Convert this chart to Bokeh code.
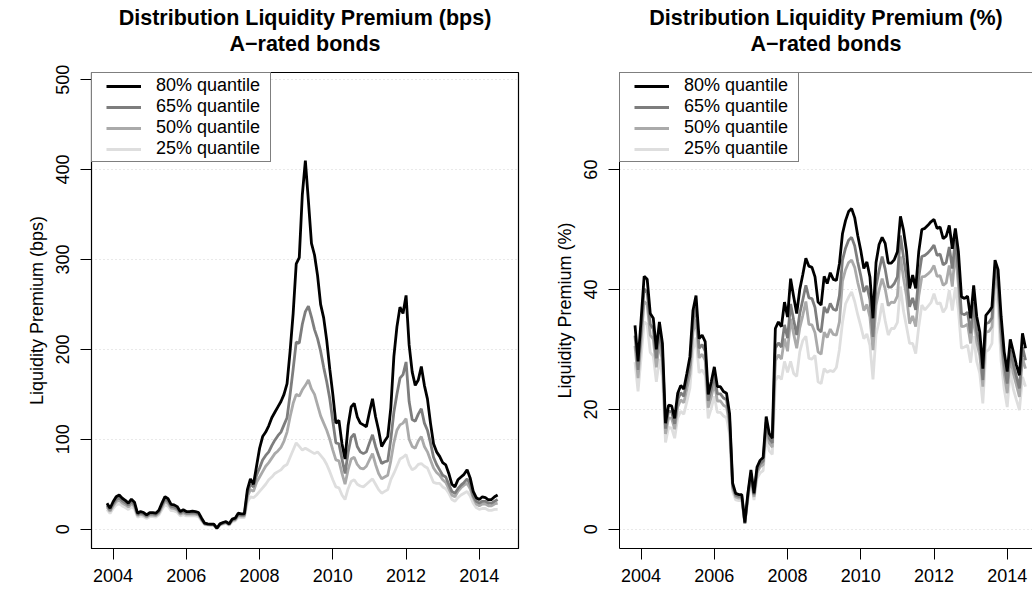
import pandas as pd
from bokeh.plotting import figure
from bokeh.models import (FixedTicker, Range1d, Legend, LegendItem, Title, Span,
                          ColumnDataSource)
from bokeh.layouts import row
from bokeh.embed import file_html
from bokeh.resources import INLINE

# ---------------- data (monthly, Nov 2003 - Jul 2014) ----------------
months = pd.period_range("2003-11", "2014-07", freq="M")
t = [m.year + (m.month - 1) / 12 for m in months]

# Left panel: liquidity premium in bps
L80 = [28.9, 23.3, 30.5, 36, 38, 34.4, 32, 29, 33.3, 30,
       17.8, 19.6, 18.5, 15.9, 18.5, 18.5, 17.8, 21, 29, 36.3,
       34, 27.5, 27, 25.1, 19.6, 21.5, 19.6, 19.6, 20, 19.6,
       18.5, 12.2, 6.7, 5.9, 5.6, 5.6, 1.1, 5.9, 7.4, 8.5,
       5.9, 11.1, 12.2, 17.8, 17, 17, 44, 56, 50, 70,
       90, 103, 108, 115, 124, 130, 136, 142, 150, 162,
       198, 240, 295, 302, 372, 410, 365, 318, 305, 282,
       250, 235, 210, 178, 150, 118, 121, 95, 78, 115,
       136, 140, 125, 118, 116, 114, 130, 145, 125, 110,
       92, 98, 103, 135, 192, 225, 247, 240, 260, 205,
       175, 160, 166, 181, 160, 145, 118, 95, 86, 81,
       74, 71.5, 62, 50, 47, 55, 58, 61, 66, 57,
       42, 35, 33, 36, 35, 32.6, 33, 36, 38]
L65 = [26.6, 21.4, 28.1, 33.1, 35, 31.6, 29.4, 26.7, 30.6, 27.6,
       16.4, 18, 17, 14.6, 17, 17, 16.4, 19.3, 26.7, 33.4,
       31.3, 25.3, 24.8, 23.1, 18, 19.8, 18, 18, 18.4, 18,
       17, 11.2, 6.2, 5.4, 5.2, 5.2, 1, 5.4, 6.8, 7.8,
       5.4, 10.2, 11.2, 16.4, 15.6, 15.6,
       40, 50, 47, 60, 68, 77, 82, 86, 93, 99, 104, 108, 116, 124,
       150, 178, 208, 207, 228, 242,
       248, 236, 222, 212, 198, 180, 164, 145, 120, 96, 95, 78, 62,
       85, 102, 106, 92, 86, 84, 86, 96, 105, 92, 82, 73, 75, 76, 100, 130,
       150, 168, 172, 186, 142, 122, 120, 128, 134, 118, 110, 96, 80, 72, 66,
       60, 58, 50, 42, 40, 45, 49, 52, 56, 50, 37, 31, 29, 31, 31, 29, 29, 31, 33]
L50 = [24.6, 19.8, 25.9, 30.6, 32.3, 29.2, 27.2, 24.7, 28.3, 25.5,
       15.1, 16.7, 15.7, 13.5, 15.7, 15.7, 15.1, 17.9, 24.7, 30.9,
       28.9, 23.4, 23, 21.3, 16.7, 18.3, 16.7, 16.7, 17, 16.7,
       15.7, 10.4, 5.7, 5, 4.8, 4.8, 0.9, 5, 6.3, 7.2,
       5, 9.4, 10.4, 15.1, 14.5, 14.5,
       36, 44, 42, 52, 58, 64, 70, 74, 79, 84, 87, 91, 98, 108,
       125, 140, 150, 148, 155, 160,
       166, 156, 150, 138, 126, 118, 110, 100, 88, 77, 76, 62, 50,
       66, 78, 80, 72, 68, 67, 70, 77, 84, 72, 62, 56, 58, 60, 76, 96,
       110, 116, 118, 123, 100, 92, 90, 98, 103, 92, 86, 77, 68, 63, 60,
       55, 52, 45, 38, 36, 42, 46, 49, 51, 45, 35, 28, 26, 28, 28, 26, 26, 28, 29]
L25 = [21.7, 17.5, 22.9, 27, 28.5, 25.8, 24, 21.8, 25, 22.5,
       13.4, 14.7, 13.9, 11.9, 13.9, 13.9, 13.4, 15.8, 21.8, 27.2,
       25.5, 20.6, 20.3, 18.8, 14.7, 16.1, 14.7, 14.7, 15, 14.7,
       13.9, 9.2, 5, 4.4, 4.2, 4.2, 0.8, 4.4, 5.6, 6.4,
       4.4, 8.3, 9.2, 13.4, 12.8, 12.8,
       30, 36, 35, 38, 42, 46, 50, 55, 58, 62, 64, 66, 70, 72,
       80, 88, 96, 92, 88, 90,
       88, 86, 84, 86, 82, 78, 72, 64, 55, 47, 46, 38, 33,
       45, 53, 55, 50, 48, 47, 50, 53, 56, 50, 44, 40, 42, 44, 55, 62,
       70, 78, 80, 83, 72, 66, 68, 72, 73, 70, 68, 60, 52, 51, 51,
       47, 45, 40, 33, 31, 35, 38, 40, 42, 37, 29, 24, 22, 23, 23, 21, 21, 22, 22]

# Right panel: liquidity premium in %
R80 = [34, 28, 35, 42.2, 41.7, 36, 35.2, 30, 34.6, 31,
       17.7, 20.7, 20.6, 18.5, 22.7, 24, 23.4, 26, 28.8, 36.5,
       39, 31.8, 32.4, 31.3, 22.5, 24.6, 27.1, 23.8, 23.8, 23.0,
       22.7, 19.3, 7.7, 6, 5.8, 5.8, 1.1, 6, 9.9, 6,
       10.4, 11.5, 12, 18.8, 16, 15.2, 33.5, 34.6, 33.8, 37.9,
       35.4, 41.8, 38.8, 36, 40, 42.5, 45.2, 43.9, 43.7, 42.1,
       37.9, 37.4, 42.2, 41, 42.8, 41.7, 41.5, 44.3, 49.3, 51.5,
       53, 53.5, 52, 49, 46.5, 43.5, 44.6, 42.1, 35.2, 44.5,
       47.5, 48.7, 47.7, 44.4, 44.4, 45, 46.3, 52.2, 49.9, 46.3,
       40.2, 42.4, 40.2, 46.3, 50, 50.2, 50.7, 51.3, 51.7, 50.2,
       50.4, 48.5, 48.9, 50.7, 46.8, 50.2, 46.3, 38.8, 38.5, 38.9,
       35.2, 40.7, 35.5, 32.9, 26.8, 35.7, 36.3, 37.1, 44.9, 43.3,
       35.5, 29.6, 26.3, 31.7, 29.6, 27.4, 25.7, 32.7, 30.2]
R65 = [32.3, 26.6, 33.3, 40.1, 39.6, 34.2, 33.4, 28.5, 32.9, 29.5,
       16.8, 19.7, 19.6, 17.6, 21.6, 22.8, 22.2, 24.7, 27.4, 34.7,
       37.1, 30.2, 30.8, 29.7, 21.4, 23.4, 25.7, 22.6, 22.6, 21.9,
       21.6, 18.3, 7.3, 5.7, 5.5, 5.5, 1, 5.7, 9.4, 5.7,
       9.9, 10.9, 11.4, 17.9, 15.2, 14.4,
       30.2, 31.1, 30.4, 34.1, 31.9, 37.6, 34.9, 32.4, 36, 38.3, 40.7,
       38.6, 38.5, 37, 33.4, 32.9, 37.1, 36.1, 37.7, 36.7, 36.5, 39,
       44.9, 46.9, 48.2, 48.7, 47.3, 44.6, 42.3, 39.6, 40.6, 38.3, 32.1, 40.5,
       43.2, 45.5, 43.4, 40.4, 40.4, 41, 42.1, 49, 45.4, 42.1, 37.1, 38.6,
       36.6, 42.1, 45.5, 45.7, 46.1, 46.7, 47.4, 45.7, 45.9, 44.1, 44.5, 47.1,
       43.5, 48.3,
       43.1, 36, 35.8, 36.2, 32.7, 37.9, 33, 30.6, 24.9, 34.3, 34.5, 35.3,
       43.8, 41.5, 33, 27.5, 24.3, 29.9, 27.5, 25.5, 23.5, 30.4, 28.2]
R50 = [30.6, 25.2, 31.5, 38, 37.5, 32.4, 31.7, 27, 31.1, 27.9,
       15.9, 18.6, 18.5, 16.7, 20.4, 21.6, 21.1, 23.4, 25.9, 32.9,
       35.1, 28.6, 29.2, 28.2, 20.3, 22.1, 24.4, 21.4, 21.4, 20.7,
       20.4, 17.4, 6.9, 5.4, 5.2, 5.2, 1, 5.4, 8.9, 5.4,
       9.4, 10.4, 10.8, 16.9, 14.4, 13.7,
       28.1, 29.1, 28.4, 31.8, 29.7, 35.1, 32.6, 30.2, 33.6, 35.7, 38,
       34.2, 34.1, 32.8, 29.6, 29.2, 32.9, 32, 33.4, 32.5, 32.4, 34.6,
       41.4, 43.3, 44.5, 44.9, 43.7, 41.2, 39.1, 36.5, 37.5, 35.4, 29.9, 37.4,
       39.9, 41.8, 40.1, 37.3, 37.9, 37.8, 38.9, 45.5, 41.9, 38.9, 34.3, 35.6,
       33.8, 38.9, 42.1, 42.2, 42.6, 43.1, 44, 42.2, 42.3, 40.7, 41.1, 44,
       40.5, 46.5,
       40.7, 33.8, 33.9, 34.2, 31, 35.8, 31.2, 29, 23.8, 32.9, 33, 33.8,
       42.9, 40, 31.2, 26, 22.7, 28.8, 26, 24.1, 22.1, 28.5, 26.8]
R25 = [27.9, 23, 28.7, 34.6, 34.2, 29.5, 28.9, 24.6, 28.4, 25.4,
       14.5, 17, 16.9, 15.2, 18.6, 19.7, 19.2, 21.3, 23.6, 29.9,
       32, 26.1, 26.6, 25.7, 18.5, 20.2, 22.2, 19.5, 19.5, 18.9,
       18.6, 15.8, 6.3, 4.9, 4.8, 4.8, 0.9, 4.9, 8.1, 4.9,
       8.5, 9.4, 9.8, 15.4, 13.1, 12.5,
       24.8, 25.6, 25, 28, 26.2, 28, 26, 25.5, 29.6, 31.5, 32.2,
       28.5, 28.4, 29, 24.6, 24.3, 26.8, 26.2, 26.5, 26.3, 27, 30,
       34.5, 37.6, 38.7, 39.6, 38, 35.8, 33.9, 31.8, 32.6, 30.7, 25, 32.5,
       34.7, 37.7, 34.8, 32.4, 33.5, 33.5, 34.5, 40.5, 36.4, 33.8, 31, 31,
       29.3, 33.8, 37.4, 36.6, 37.2, 37.8, 39.3, 37.6, 37.8, 36.2, 37, 39.9,
       36.5, 40.4,
       36.6, 30.2, 30.4, 30.7, 27.8, 32.2, 28, 26, 21, 29.6, 30, 31,
       41, 37, 28, 23.4, 20.4, 26.5, 23.4, 21.6, 19.9, 25.4, 23.8]

QUANTILES = ["80% quantile", "65% quantile", "50% quantile", "25% quantile"]
COLORS = ["#000000", "#7d7d7d", "#aaaaaa", "#dedede"]
X_TICKS = [2004, 2006, 2008, 2010, 2012, 2014]
LEFT_Y_TICKS = [0, 100, 200, 300, 400, 500]
RIGHT_Y_TICKS = [0, 20, 40, 60]

FONT = "Liberation Sans"
FS = "18px"


def panel(series, title1, title2, ylab, yticks, yr, xr, width, ml, mr, outline):
    src = ColumnDataSource(dict(t=t, q80=series[0], q65=series[1],
                                q50=series[2], q25=series[3]))
    p = figure(width=width, height=592, output_backend="svg", toolbar_location=None,
               title=None, x_range=Range1d(*xr), y_range=Range1d(*yr),
               min_border_left=ml, min_border_right=mr, min_border_top=72,
               min_border_bottom=44, background_fill_color="white",
               border_fill_color="white")
    # spacer between plot box and title, then the two title lines
    p.add_layout(Title(text=" ", text_font=FONT, text_font_size="10px",
                       standoff=4, offset=0), "above")
    p.add_layout(Title(text=title2, align="center", text_font=FONT,
                       text_font_size="21.5px", text_font_style="bold",
                       text_color="black", standoff=0, offset=0), "above")
    p.add_layout(Title(text=title1, align="center", text_font=FONT,
                       text_font_size="21.5px", text_font_style="bold",
                       text_color="black", standoff=0, offset=0), "above")
    # lines, lightest first so black is on top
    cols = ["q80", "q65", "q50", "q25"]
    for c, col in reversed(list(zip(cols, COLORS))):
        p.line("t", c, source=src, line_color=col, line_width=2.8)
    # legend keys: a non-drawing renderer per quantile, dash offset insets the key
    blank = ColumnDataSource(dict(t=[t[0]], v=[float("nan")]))
    items = []
    for lab, col in zip(QUANTILES, COLORS):
        r = p.line("t", "v", source=blank, line_color=col, line_width=2.8,
                   line_dash="35 100", line_dash_offset=123)
        items.append(LegendItem(label=lab, renderers=[r]))
    leg = Legend(items=items, location="top_left", margin=0, padding=2, spacing=0,
                 glyph_width=47, glyph_height=18, label_height=18, label_standoff=15,
                 label_width=112,
                 label_text_font=FONT, label_text_font_size=FS, label_text_color="black",
                 border_line_color="black", border_line_width=1.2,
                 background_fill_color="white", background_fill_alpha=1.0)
    p.add_layout(leg)

    p.xaxis.ticker = FixedTicker(ticks=X_TICKS)
    p.yaxis.ticker = FixedTicker(ticks=yticks)
    p.yaxis.major_label_orientation = "vertical"
    for ax in p.axis:
        ax.minor_tick_line_color = None
        ax.major_tick_in = 0
        ax.major_tick_out = 11
        ax.major_tick_line_color = "black"
        ax.axis_line_color = "black"
        ax.major_label_text_font = FONT
        ax.major_label_text_font_size = FS
        ax.major_label_text_color = "black"
    p.xaxis.major_label_standoff = 9
    p.yaxis.major_label_standoff = 11
    p.yaxis.axis_label = ylab
    p.yaxis.axis_label_text_font = FONT
    p.yaxis.axis_label_text_font_size = FS
    p.yaxis.axis_label_text_font_style = "normal"
    p.yaxis.axis_label_text_color = "black"
    p.yaxis.axis_label_standoff = 7
    p.xgrid.grid_line_color = None
    p.ygrid.grid_line_color = "#d3d3d3"
    p.ygrid.grid_line_dash = "1 3"
    p.ygrid.grid_line_width = 1.2
    if outline:
        p.outline_line_color = "black"
        p.outline_line_width = 1.2
    else:
        p.outline_line_color = None
        p.add_layout(Span(location=yr[1], dimension="width", line_color="black",
                          line_width=1.2))
    return p


p1 = panel([L80, L65, L50, L25], "Distribution Liquidity Premium (bps)",
           "A\u2212rated bonds", "Liquidity Premium (bps)", LEFT_Y_TICKS,
           (-21.5, 508), (2003.41, 2015.07), 520, 91, 2, True)
p2 = panel([R80, R65, R50, R25], "Distribution Liquidity Premium (%)",
           "A\u2212rated bonds", "Liquidity Premium (%)", RIGHT_Y_TICKS,
           (-3.2, 76.2), (2003.41, 2014.69), 512, 99, 0, False)

layout = row(p1, p2)
open("out.html", "w").write(file_html(layout, INLINE, title="Liquidity Premium"))
